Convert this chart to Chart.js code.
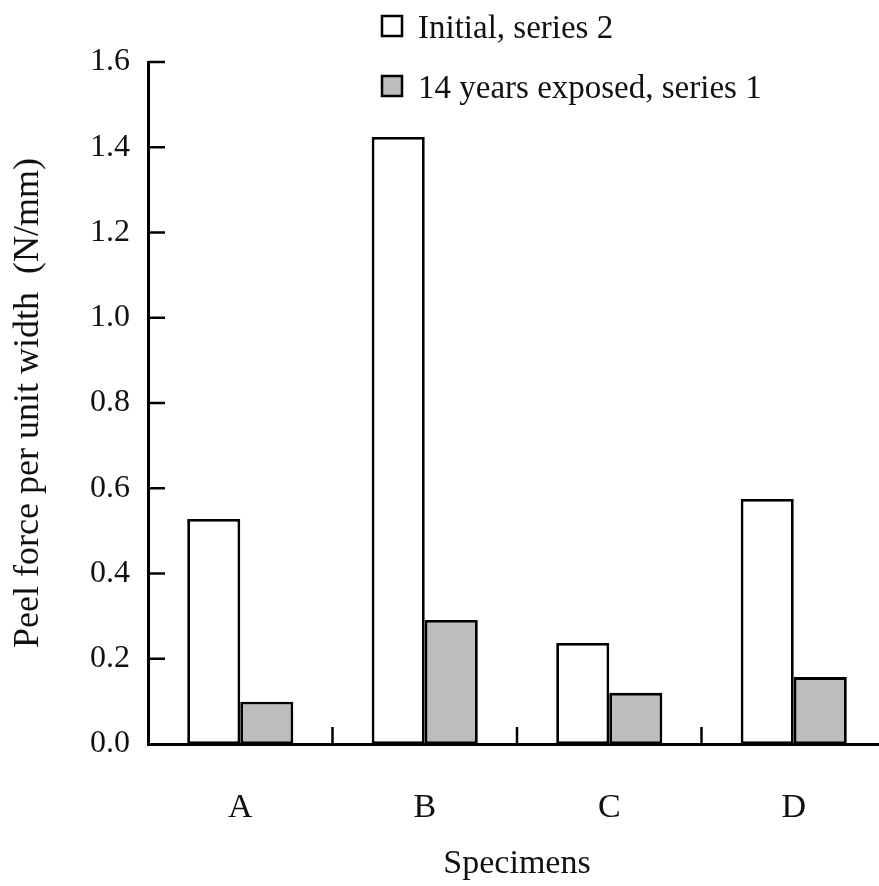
<!DOCTYPE html>
<html>
<head>
<meta charset="utf-8">
<title>Peel force per unit width</title>
<script src="https://cdn.jsdelivr.net/npm/chart.js@4/dist/chart.umd.min.js"></script>
<style>
    html, body { margin: 0; padding: 0; background: #fff; overflow: hidden; }
</style>
</head>
<body>
<canvas id="peelChart" width="886" height="886"></canvas>
<script>
// data
const specimens = ['A', 'B', 'C', 'D'];
const initialValues = [0.528, 1.424, 0.237, 0.575];
const exposedValues = [0.099, 0.291, 0.120, 0.157];
const yTicks = [0.0, 0.2, 0.4, 0.6, 0.8, 1.0, 1.2, 1.4, 1.6];

const serif = '"Liberation Serif", "Times New Roman", serif';

// ticks point inward, like the original figure
const inwardTicks = {
    id: 'inwardTicks',
    afterDraw(chart) {
        const ctx = chart.ctx;
        const x = chart.scales.x;
        const y = chart.scales.y;
        const area = chart.chartArea;
        ctx.save();
        ctx.strokeStyle = '#000';
        ctx.lineWidth = 2.5;
        ctx.beginPath();
        yTicks.forEach(function(v) {
            const py = y.getPixelForValue(v);
            if (v === 0) return;
            ctx.moveTo(area.left, py);
            ctx.lineTo(area.left + 17, py);
        });
        for (let i = 0; i < specimens.length - 1; i++) {
            const px = (x.getPixelForValue(i) + x.getPixelForValue(i + 1)) / 2;
            ctx.moveTo(px, area.bottom);
            ctx.lineTo(px, area.bottom - 17);
        }
        ctx.stroke();
        ctx.restore();
    }
};

// legend stacked at the top, boxes then text
const stackedLegend = {
    id: 'stackedLegend',
    afterDraw(chart) {
        const ctx = chart.ctx;
        const rows = [16, 76];
        ctx.save();
        ctx.font = '33px ' + serif;
        ctx.textBaseline = 'alphabetic';
        chart.data.datasets.forEach(function(ds, i) {
            const top = rows[i];
            ctx.fillStyle = ds.backgroundColor;
            ctx.fillRect(382, top, 20, 20);
            ctx.strokeStyle = '#000';
            ctx.lineWidth = 2.5;
            ctx.strokeRect(382, top, 20, 20);
            ctx.fillStyle = '#111';
            ctx.fillText(ds.label, 418, top + 22);
        });
        ctx.restore();
    }
};

const ctx = document.getElementById('peelChart').getContext('2d');
const peelChart = new Chart(ctx, {
    type: 'bar',
    data: {
        labels: specimens,
        datasets: [{
            label: 'Initial, series 2',
            data: initialValues,
            backgroundColor: '#ffffff',
            borderColor: '#000',
            borderWidth: 2.8,
            borderSkipped: false
        }, {
            label: '14 years exposed, series 1',
            data: exposedValues,
            backgroundColor: '#bdbdbd',
            borderColor: '#000',
            borderWidth: 2.8,
            borderSkipped: false
        }]
    },
    options: {
        responsive: false,
        animation: false,
        devicePixelRatio: 1,
        layout: {
            // the x axis runs a little past the right edge of the window
            padding: { top: 62, right: 0, bottom: 0, left: 0 }
        },
        categoryPercentage: 0.575,
        barPercentage: 1.0,
        plugins: {
            legend: { display: false },
            tooltip: { enabled: false }
        },
        scales: {
            x: {
                grid: { display: false, drawTicks: false },
                border: { display: true, color: '#000', width: 3 },
                ticks: {
                    color: '#111',
                    padding: 44,
                    font: { family: serif, size: 34 }
                },
                title: {
                    display: true,
                    text: 'Specimens',
                    color: '#111',
                    padding: { top: 0, bottom: 2 },
                    font: { family: serif, size: 34 }
                },
                afterFit(scale) { scale.height = 142; }
            },
            y: {
                min: 0,
                max: 1.6,
                grid: { display: false, drawTicks: false },
                border: { display: true, color: '#000', width: 3 },
                ticks: {
                    stepSize: 0.2,
                    color: '#111',
                    padding: 18,
                    font: { family: serif, size: 32 },
                    callback: function(value) { return value.toFixed(1); }
                },
                title: {
                    display: true,
                    text: 'Peel force per unit width  (N/mm)',
                    color: '#111',
                    padding: { top: 7, bottom: 0 },
                    font: { family: serif, size: 36 }
                },
                afterFit(scale) { scale.width = 148; }
            }
        }
    },
    plugins: [inwardTicks, stackedLegend]
});
</script>
</body>
</html>
